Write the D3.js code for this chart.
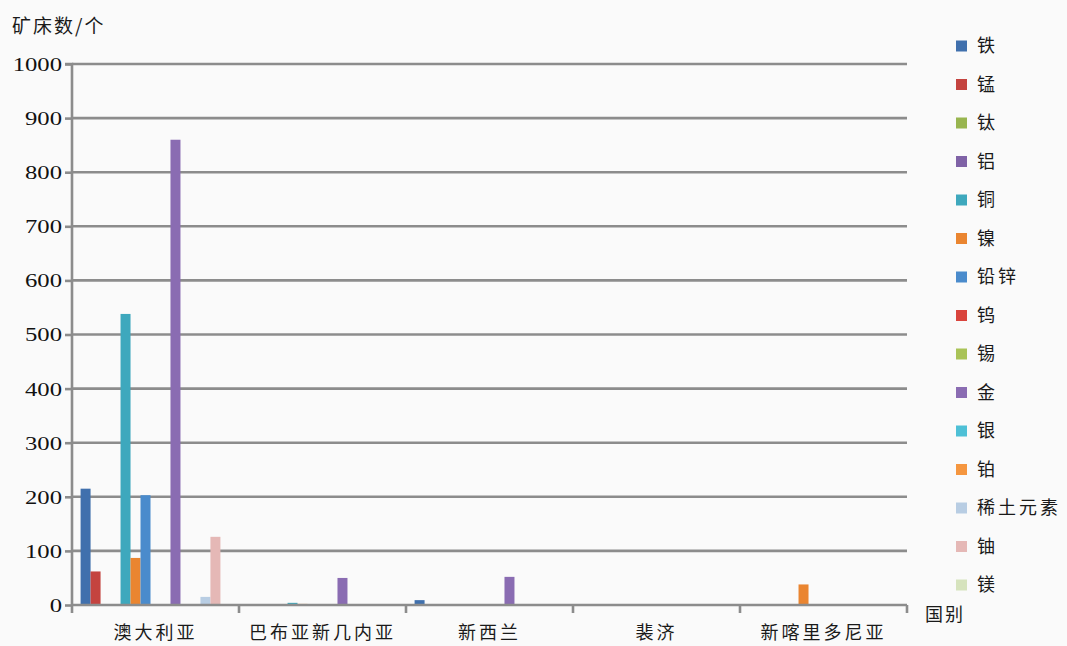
<!DOCTYPE html>
<html>
<head>
<meta charset="utf-8">
<script src="https://cdn.jsdelivr.net/npm/d3@7"></script>
<style>
  html, body { margin: 0; padding: 0; background: #fafafa; }
  svg { display: block; }
</style>
</head>
<body>
<svg id="chart" width="1067" height="646"></svg>
<script>
// Countries along the x axis
const countries = ["澳大利亚", "巴布亚新几内亚", "新西兰", "裴济", "新喀里多尼亚"];

// Deposit counts per mineral, in the same order as the countries
const iron      = [215, 0, 9, 0, 0];
const manganese = [62, 0, 0, 0, 0];
const titanium  = [0, 0, 0, 0, 0];
const aluminium = [0, 0, 0, 0, 0];
const copper    = [538, 4, 0, 0, 0];
const nickel    = [87, 2, 0, 0, 38];
const leadZinc  = [203, 0, 0, 0, 0];
const tungsten  = [0, 0, 0, 0, 0];
const tin       = [0, 0, 0, 0, 0];
const gold      = [860, 50, 52, 0, 0];
const silver    = [0, 0, 0, 0, 0];
const platinum  = [0, 0, 0, 0, 0];
const rareEarth = [15, 0, 0, 0, 0];
const uranium   = [126, 0, 0, 0, 0];
const magnesium = [0, 0, 0, 0, 0];

const mineralNames = ["铁", "锰", "钛", "铝", "铜", "镍", "铅锌", "钨", "锡", "金", "银", "铂", "稀土元素", "铀", "镁"];
const mineralValues = [iron, manganese, titanium, aluminium, copper, nickel, leadZinc,
                       tungsten, tin, gold, silver, platinum, rareEarth, uranium, magnesium];
const mineralColors = ["#4070ad", "#c4433f", "#98b54f", "#7f62a6", "#3ea8bd", "#ea8530",
                       "#4a8bcc", "#d9443d", "#a9c357", "#8a6cb2", "#4ec0d6", "#f5963f",
                       "#b8cde3", "#e5b8b6", "#d6e3bd"];

const yTicks = [0, 100, 200, 300, 400, 500, 600, 700, 800, 900, 1000];

const svg = d3.select("#chart");
const margin = { left: 72, right: 907, top: 64, bottom: 605 };

const x0 = d3.scaleBand().domain(countries).range([margin.left, margin.right]).padding(0);
const x1 = d3.scaleBand().domain(d3.range(mineralNames.length))
  .range([0, x0.bandwidth()]).paddingInner(0).paddingOuter(0.86);
const y = d3.scaleLinear().domain([0, 1000]).range([margin.bottom, margin.top]);

const gridColor = "#8c8c8c";

// Horizontal gridlines
svg.append("g").selectAll("line")
  .data(yTicks.filter(d => d > 0))
  .join("line")
  .attr("x1", margin.left).attr("x2", margin.right)
  .attr("y1", d => y(d)).attr("y2", d => y(d))
  .attr("stroke", gridColor).attr("stroke-width", 2.6);

// Bars
const table = countries.map((c, ci) => ({
  country: c,
  values: mineralValues.map((arr, mi) => ({ mi, v: arr[ci] }))
}));

svg.append("g").selectAll("g")
  .data(table)
  .join("g")
  .attr("transform", d => `translate(${x0(d.country)},0)`)
  .selectAll("rect")
  .data(d => d.values.filter(e => e.v > 0))
  .join("rect")
  .attr("x", d => x1(d.mi))
  .attr("width", x1.bandwidth())
  .attr("y", d => y(d.v))
  .attr("height", d => y(0) - y(d.v))
  .attr("fill", d => mineralColors[d.mi]);

// Y axis
const yAxis = d3.axisLeft(y).tickValues(yTicks).tickFormat(d3.format("d")).tickSize(7).tickPadding(3);
const gy = svg.append("g").attr("transform", `translate(${margin.left},0)`).call(yAxis);
gy.select(".domain").attr("stroke", gridColor).attr("stroke-width", 2.6)
  .attr("d", `M-7,${y(1000)}H0V${y(0)}`);
gy.selectAll(".tick line").attr("stroke", gridColor).attr("stroke-width", 2.6);
gy.selectAll(".tick text")
  .attr("font-family", "'Liberation Serif', 'Times New Roman', serif")
  .attr("font-size", 19)
  .attr("fill", "#111")
  .attr("x", 0)
  .attr("dy", "0.34em")
  .attr("transform", "translate(-10,0) scale(1.3,1)");

// X axis
const xAxis = d3.axisBottom(x0).tickSize(0).tickPadding(0);
const gx = svg.append("g").attr("transform", `translate(0,${margin.bottom})`).call(xAxis);
gx.select(".domain").attr("stroke", gridColor).attr("stroke-width", 2.6)
  .attr("d", `M${margin.left},0H${margin.right}`);
gx.selectAll(".tick text")
  .attr("font-family", "'Noto Sans CJK SC', sans-serif")
  .attr("font-size", 18)
  .attr("letter-spacing", "3px")
  .attr("fill", "#1a1a1a")
  .attr("y", 28)
  .attr("dy", "0.35em");
// Category boundary ticks
gx.append("g").selectAll("line")
  .data(countries.map(c => x0(c)).concat([margin.right]))
  .join("line")
  .attr("x1", d => d).attr("x2", d => d)
  .attr("y1", 0).attr("y2", 8)
  .attr("stroke", gridColor).attr("stroke-width", 2.6);

// Axis titles
svg.append("text")
  .attr("x", 12).attr("y", 33)
  .attr("font-family", "'Noto Sans CJK SC', sans-serif")
  .attr("font-size", 19).attr("letter-spacing", "2px")
  .attr("fill", "#1a1a1a")
  .text("矿床数/个");

svg.append("text")
  .attr("x", 925).attr("y", 621)
  .attr("font-family", "'Noto Sans CJK SC', sans-serif")
  .attr("font-size", 18).attr("letter-spacing", "2px")
  .attr("fill", "#1a1a1a")
  .text("国别");

// Legend
const legend = svg.append("g").selectAll("g")
  .data(mineralNames)
  .join("g")
  .attr("transform", (d, i) => `translate(956,${46 + i * 38.5})`);
legend.append("rect")
  .attr("x", 0).attr("y", -5.5).attr("width", 11).attr("height", 11)
  .attr("fill", (d, i) => mineralColors[i]);
legend.append("text")
  .attr("x", 21).attr("y", 0).attr("dy", "0.36em")
  .attr("font-family", "'Noto Sans CJK SC', sans-serif")
  .attr("font-size", 18).attr("letter-spacing", "3px")
  .attr("fill", "#1a1a1a")
  .text(d => d);
</script>
</body>
</html>
